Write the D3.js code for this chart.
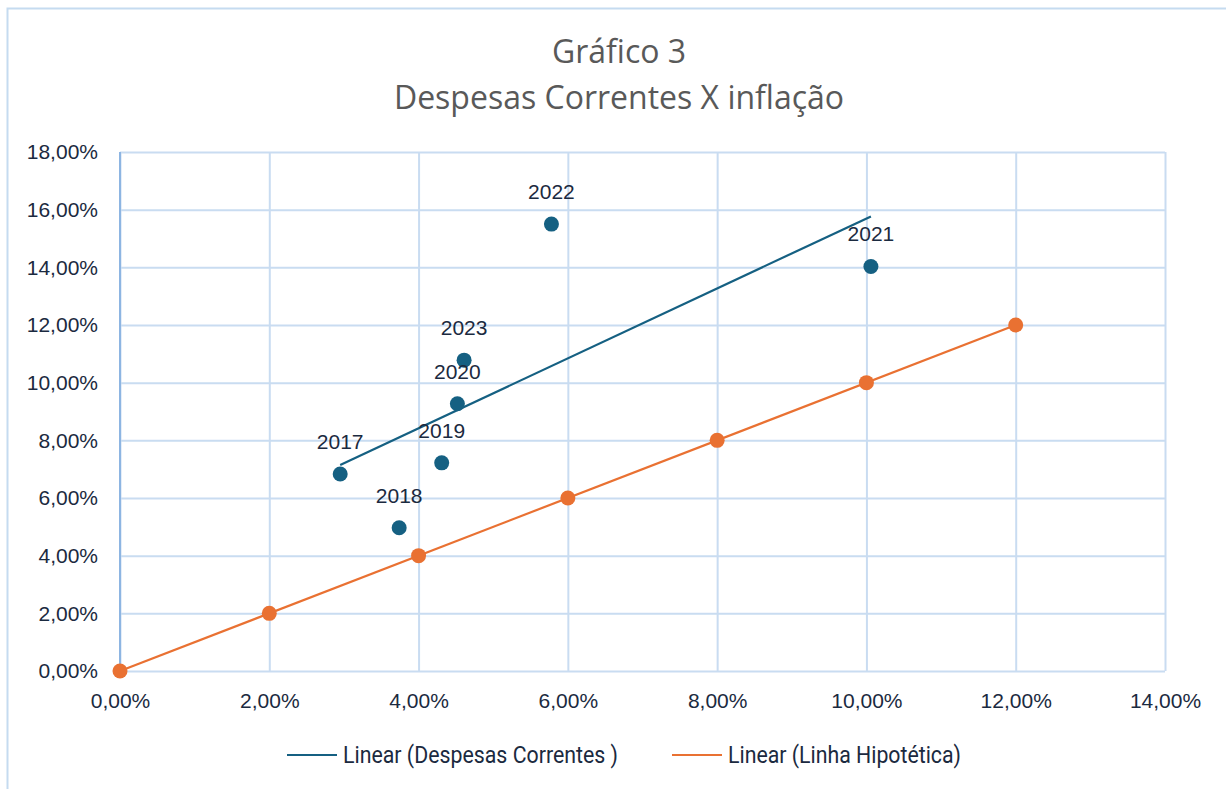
<!DOCTYPE html>
<html lang="pt">
<head>
  <meta charset="utf-8" />
  <title>Gráfico 3 – Despesas Correntes X inflação</title>
  <script src="https://d3js.org/d3.v7.min.js"></script>
  <style>
    html, body { margin: 0; padding: 0; background: #fff; }
    svg { display: block; }
    .title { font-family: "Open Sans", sans-serif; font-size: 32px; fill: #595959; }
    .tick text { font-family: "Liberation Sans", Arial, sans-serif; font-size: 21px; fill: #1b2a40; }
    .lbl { font-family: "Liberation Sans", Arial, sans-serif; font-size: 21px; fill: #1b2a40; }
    .legend text { font-family: "Roboto", sans-serif; font-size: 23px; fill: #1b2a40; }
  </style>
</head>
<body>
  <svg id="chart" width="1226" height="789"></svg>
  <script>
    // dados (inflação x variação das despesas correntes, em %)
    const anos = ["2017", "2018", "2019", "2020", "2023", "2022", "2021"];
    const inflacao = [2.95, 3.74, 4.31, 4.52, 4.61, 5.78, 10.06];
    const despesas = [6.83, 4.97, 7.22, 9.27, 10.78, 15.50, 14.03];

    // linha hipotética (despesa = inflação)
    const hipX = [0, 2, 4, 6, 8, 10, 12];
    const hipY = [0, 2, 4, 6, 8, 10, 12];

    const xTicks = [0, 2, 4, 6, 8, 10, 12, 14];
    const yTicks = [0, 2, 4, 6, 8, 10, 12, 14, 16, 18];

    const azul = "#156082";
    const laranja = "#e97132";
    const grade = "#c9dcf1";

    const svg = d3.select("#chart");

    // moldura externa
    svg.append("rect")
      .attr("x", 7.5).attr("y", 8.5)
      .attr("width", 1240).attr("height", 800)
      .attr("fill", "none").attr("stroke", "#c5dbf0").attr("stroke-width", 2);

    const x = d3.scaleLinear().domain([0, 14]).range([120, 1165]);
    const y = d3.scaleLinear().domain([0, 18]).range([671, 152]);

    const fmt = d => d3.format(".2f")(d).replace(".", ",") + "%";

    // grade vertical + rótulos do eixo x
    svg.append("g")
      .attr("transform", `translate(0,${y(0)})`)
      .call(d3.axisBottom(x).tickValues(xTicks).tickSize(-(y(0) - y(18))).tickFormat(fmt).tickPadding(22))
      .call(g => g.select(".domain").remove())
      .call(g => g.selectAll(".tick line").attr("stroke", grade).attr("stroke-width", 2));

    // grade horizontal + rótulos do eixo y
    svg.append("g")
      .attr("transform", `translate(${x(0)},0)`)
      .call(d3.axisLeft(y).tickValues(yTicks).tickSize(-(x(14) - x(0))).tickFormat(fmt).tickPadding(22))
      .call(g => g.select(".domain").remove())
      .call(g => g.selectAll(".tick line").attr("stroke", grade).attr("stroke-width", 2));

    // eixo y
    svg.append("line")
      .attr("x1", x(0)).attr("x2", x(0)).attr("y1", y(18)).attr("y2", y(0))
      .attr("stroke", "#8db5e2").attr("stroke-width", 2);

    // regressão linear
    function regressao(xs, ys) {
      const mx = d3.mean(xs), my = d3.mean(ys);
      let sxy = 0, sxx = 0;
      xs.forEach((v, i) => { sxy += (v - mx) * (ys[i] - my); sxx += (v - mx) * (v - mx); });
      const b = sxy / sxx;
      return v => my + b * (v - mx);
    }

    const fDesp = regressao(inflacao, despesas);
    const [xmin, xmax] = d3.extent(inflacao);
    svg.append("line")
      .attr("x1", x(xmin)).attr("y1", y(fDesp(xmin)))
      .attr("x2", x(xmax)).attr("y2", y(fDesp(xmax)))
      .attr("stroke", azul).attr("stroke-width", 2.2);

    const fHip = regressao(hipX, hipY);
    const [hmin, hmax] = d3.extent(hipX);
    svg.append("line")
      .attr("x1", x(hmin)).attr("y1", y(fHip(hmin)))
      .attr("x2", x(hmax)).attr("y2", y(fHip(hmax)))
      .attr("stroke", laranja).attr("stroke-width", 2.2);

    // pontos
    svg.append("g").selectAll("circle")
      .data(hipX.map((v, i) => [v, hipY[i]]))
      .join("circle")
      .attr("cx", d => x(d[0])).attr("cy", d => y(d[1])).attr("r", 7.5)
      .attr("fill", laranja);

    svg.append("g").selectAll("circle")
      .data(inflacao.map((v, i) => [v, despesas[i]]))
      .join("circle")
      .attr("cx", d => x(d[0])).attr("cy", d => y(d[1])).attr("r", 7.5)
      .attr("fill", azul);

    // rótulos dos anos
    svg.append("g").selectAll("text")
      .data(anos)
      .join("text")
      .attr("class", "lbl")
      .attr("text-anchor", "middle")
      .attr("x", (d, i) => x(inflacao[i]))
      .attr("y", (d, i) => y(despesas[i]) - 25)
      .text(d => d);

    // título
    svg.append("text").attr("class", "title").attr("text-anchor", "middle")
      .attr("x", 619).attr("y", 63).text("Gráfico 3");
    svg.append("text").attr("class", "title").attr("text-anchor", "middle")
      .attr("x", 619).attr("y", 109).text("Despesas Correntes X inflação");

    // legenda (fonte condensada simulada com textLength)
    const legenda = [
      { nome: "Linear (Despesas Correntes )", cor: azul, x0: 287, w: 275 },
      { nome: "Linear (Linha Hipotética)", cor: laranja, x0: 672, w: 233 }
    ];
    const lg = svg.append("g").attr("class", "legend");
    legenda.forEach(l => {
      lg.append("line").attr("x1", l.x0).attr("x2", l.x0 + 50)
        .attr("y1", 755).attr("y2", 755).attr("stroke", l.cor).attr("stroke-width", 2.2);
      lg.append("text").attr("x", l.x0 + 56).attr("y", 763)
        .attr("textLength", l.w).attr("lengthAdjust", "spacingAndGlyphs")
        .text(l.nome);
    });
  </script>
</body>
</html>
